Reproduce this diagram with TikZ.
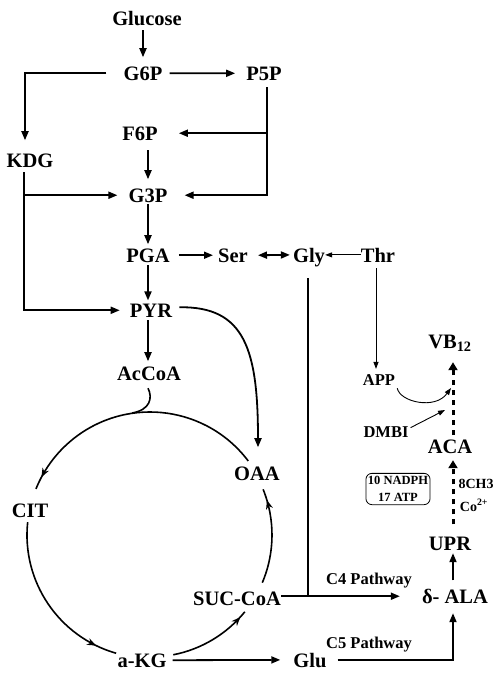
\documentclass[tikz,border=0pt]{standalone}
\usepackage{fontspec}
\setmainfont{Liberation Serif}
\usetikzlibrary{arrows.meta,calc,decorations.markings}
\begin{document}
\begin{tikzpicture}[x=1pt,y=-1pt,
  lab/.style={font=\bfseries\fontsize{20.5}{22}\selectfont, inner sep=0pt, text depth=0pt, anchor=base},
  mid/.style={font=\bfseries\fontsize{16.5}{18}\selectfont, inner sep=0pt, text depth=0pt, anchor=base},
  sml/.style={font=\bfseries\fontsize{14}{16}\selectfont, inner sep=0pt, text depth=0pt, anchor=base},
  ln/.style={line width=1.8pt},
  arr/.style={line width=1.8pt, -{Triangle[length=9pt,width=7pt]}},
  dbl/.style={line width=1.8pt, {Triangle[length=9pt,width=7pt]}-{Triangle[length=9pt,width=7pt]}},
  thinarr/.style={line width=0.9pt, -{Triangle[length=7pt,width=5pt]}},
  dasharr/.style={line width=3pt, dash pattern=on 5pt off 5pt, -{Triangle[length=8pt,width=9pt]}},
  cyc/.style={line width=1.6pt, postaction={decorate}, decoration={markings, mark=at position #1 with {\arrow{Stealth[length=9pt,width=7pt]}}}},
]
\useasboundingbox (0,0) rectangle (500,681);

% nodes
\node[lab] (glucose) at (147,25) {Glucose};
\node[lab] (g6p) at (143,80) {G6P};
\node[lab] (p5p) at (264,80) {P5P};
\node[lab] (f6p) at (140,140) {F6P};
\node[lab] (kdg) at (30,167) {KDG};
\node[lab] (g3p) at (148,202) {G3P};
\node[lab] (pga) at (148,262) {PGA};
\node[lab] (ser) at (233,262) {Ser};
\node[lab] (gly) at (309,262) {Gly};
\node[lab] (thr) at (378,262) {Thr};
\node[lab] (pyr) at (151,317) {PYR};
\node[lab] (accoa) at (149,380) {AcCoA};
\node[lab] (vb) at (450,348) {VB\textsubscript{12}};
\node[mid] (app) at (379,385) {APP};
\node[mid] (dmbi) at (386,437) {DMBI};
\node[lab] (aca) at (450,453) {ACA};
\node[sml] (ch3) at (476,488) {8CH3};
\node[sml] (co) at (474,511) {Co\textsuperscript{2+}};
\node[draw, rounded corners=6pt, line width=0.8pt, inner xsep=2pt, inner ysep=3pt, align=center,
      font=\bfseries\fontsize{12.5}{17}\selectfont] (cost) at (398,489) {10 NADPH\\17 ATP};
\node[lab] (upr) at (450,550) {UPR};
\node[lab] (ala) at (455,603) {δ- ALA};
\node[mid] (c4) at (369,584) {C4 Pathway};
\node[mid] (c5) at (369,648) {C5 Pathway};
\node[lab] (cit) at (30,517) {CIT};
\node[lab] (oaa) at (257,480) {OAA};
\node[lab] (succoa) at (237,605) {SUC-CoA};
\node[lab] (akg) at (142,667) {a-KG};
\node[lab] (glu) at (310,667) {Glu};

\coordinate (vbjoin) at (451,388);
\coordinate (dmbijoin) at (445,410);

% top part
\draw[arr] ($(glucose.south -| g6p.south)+(0,5)$) -- ($(g6p.north)+(0,-9)$);
\draw[arr] ($(g6p.east)+(7,0)$) -- ($(p5p.west)+(-11,0)$);
\draw[arr] ($(g6p.west)+(-17,0)$) -| ($(kdg.north)+(-5,-13)$);
\coordinate (pv) at ($(p5p.south)+(3,7)$);
\draw[arr] (pv) |- ($(g3p.east)+(17,0)$);
\draw[arr] (pv |- f6p.east) -- ($(f6p.east)+(21,0)$);
\draw[arr] ($(f6p.south -| g3p.south)+(0,10)$) -- ($(g3p.north)+(0,-9)$);
\coordinate (kv) at ($(kdg.south)+(-6,5)$);
\draw[arr] (kv) |- ($(pyr.west)+(-10,0)$);
\draw[arr] (kv |- g3p.west) -- ($(g3p.west)+(-11,0)$);
\draw[arr] ($(g3p.south)+(0,2)$) -- ($(pga.north)+(0,-4)$);
\draw[arr] ($(pga.south)+(0,3)$) -- ($(pyr.north -| pga.south)+(0,-3)$);
\draw[arr] ($(pyr.south -| pga.south)+(0,3)$) -- ($(accoa.north -| pga.south)+(0,-5)$);
\draw[arr] ($(pga.east)+(9,0)$) -- ($(ser.west)+(-5,0)$);
\draw[dbl] ($(ser.east)+(10,0)$) -- ($(gly.west)+(-3,0)$);
\draw[thinarr] (thr.west) -- (gly.east);
\draw[thinarr] ($(thr.south)+(-2,6)$) -- ($(app.north -| thr.south)+(-2,-5)$);

% C4 pathway
\draw[ln] ($(gly.south)+(-1,16)$) -- ($(gly.south |- succoa.east)+(-1,-2)$);
\draw[arr] ($(succoa.east)+(0,-2)$) -- ($(ala.west |- succoa.east)+(-22,-2)$);

% PYR -> OAA
\draw[arr] ($(pyr.east)+(7,-3)$) .. controls (245,306) and (258,350) .. ($(oaa.north)+(1,-19)$);
% AcCoA hook
\draw[line width=1.6pt] ($(accoa.south)+(-1,8)$) .. controls (153,398) and (150,410) .. (132,413);

% TCA cycle
\draw[cyc=0.95] (150,535) ++(-37:123) arc[start angle=-37, end angle=-158, radius=123];
\draw[cyc=0.875] (150,535) ++(186:123) arc[start angle=186, end angle=106, radius=123];
\draw[cyc=0.92] (150,535) ++(79:122) arc[start angle=79, end angle=39, radius=122];
\draw[cyc=0.88] (150,535) ++(23:122) arc[start angle=23, end angle=-22, radius=122];

% C5 pathway
\draw[arr] ($(akg.east)+(6,0)$) -- ($(glu.west)+(-13,0)$);
\draw[arr] ($(glu.east)+(11,0)$) -| ($(ala.south)+(-2,10)$);

% VB12 branch
\draw[arr] ($(ala.north -| upr.north)+(3,-8)$) -- ($(upr.south)+(3,3)$);
\draw[dasharr] ($(upr.north)+(3,-12)$) -- ($(aca.south)+(3,7)$);
\draw[dasharr] ($(aca.north)+(3,-4)$) -- ($(vb.south)+(3,14)$);
\draw[thinarr] ($(app.south east)+(2,3)$) .. controls (400,402) and (435,410) .. (vbjoin);
\draw[thinarr] ($(dmbi.east)+(2,-4)$) -- (dmbijoin);
\end{tikzpicture}
\end{document}
